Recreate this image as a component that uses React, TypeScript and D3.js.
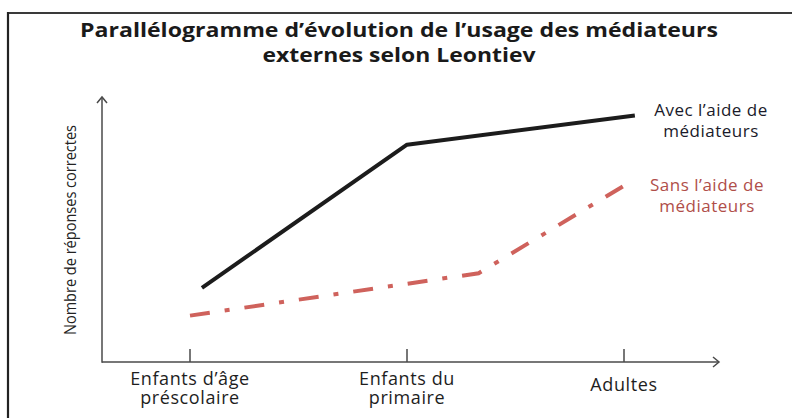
import React from "react";
import * as d3 from "d3";

// categories on the x axis (two-line labels)
const categories = [
  ["Enfants d\u2019âge", "préscolaire"],
  ["Enfants du", "primaire"],
  ["Adultes"],
];

// x given in category units (0 = first tick), y in arbitrary 0–100 units
const avecX = [0.055, 1, 2.05];
const avecY = [28, 82, 93];
const sansX = [0, 1.33, 2.04];
const sansY = [17.5, 33.5, 68.5];

const title = ["Parallélogramme d\u2019évolution de l\u2019usage des médiateurs", "externes selon Leontiev"];
const yLabel = "Nombre de réponses correctes";
const avecLabel = ["Avec l\u2019aide de", "médiateurs"];
const sansLabel = ["Sans l\u2019aide de", "médiateurs"];

const W = 792;
const H = 418;
const font = "'Open Sans', Lato, sans-serif";

export default function App() {
  const x = d3.scaleLinear().domain([0, 2]).range([190, 624]);
  const y = d3.scaleLinear().domain([0, 100]).range([362, 97]);
  const axisX0 = 102;
  const axisXEnd = 719;
  const axisYTop = 97;
  const axisY0 = 362;

  const line = d3
    .line<[number, number]>()
    .x((d) => x(d[0]))
    .y((d) => y(d[1]));

  const avecPts = avecX.map((v, i) => [v, avecY[i]] as [number, number]);
  const sansPts = sansX.map((v, i) => [v, sansY[i]] as [number, number]);

  return (
    <div style={{ position: "fixed", left: 0, top: 0, width: W, height: H, background: "#fff" }}>
      <svg width={W} height={H} style={{ display: "block", fontFamily: font }}>
        {/* frame */}
        <line x1={8} y1={13} x2={W} y2={13} stroke="#3a3a3a" strokeWidth={2} />
        <line x1={8} y1={12} x2={8} y2={H} stroke="#222" strokeWidth={2.2} />

        {/* title */}
        {title.map((t, i) => (
          <text
            key={i}
            x={399}
            y={37 + i * 25}
            textAnchor="middle"
            fontSize={20}
            fontWeight={700}
            fill="#1a1a1a"
            textLength={i === 0 ? 638 : 273}
            lengthAdjust="spacingAndGlyphs"
          >
            {t}
          </text>
        ))}

        {/* axes */}
        <g stroke="#4a4a4a" strokeWidth={1.5} fill="none">
          <line x1={axisX0} y1={axisY0} x2={axisXEnd} y2={axisY0} />
          <line x1={axisX0} y1={axisY0 + 0.75} x2={axisX0} y2={axisYTop} />
          <polyline points={`${axisX0 - 5},${axisYTop + 6} ${axisX0},${axisYTop} ${axisX0 + 5},${axisYTop + 6}`} />
          <polyline points={`${axisXEnd - 6},${axisY0 - 5} ${axisXEnd},${axisY0} ${axisXEnd - 6},${axisY0 + 5}`} />
          {categories.map((_, i) => (
            <line key={i} x1={x(i)} y1={axisY0} x2={x(i)} y2={axisY0 - 13} />
          ))}
        </g>

        {/* category labels */}
        {categories.map((lines, i) => (
          <text
            key={i}
            x={x(i)}
            textAnchor="middle"
            fontSize={18}
            letterSpacing={0.6}
            fill="#1e1e1e"
          >
            {lines.map((l, j) => (
              <tspan key={j} x={x(i)} y={(lines.length === 1 ? 391 : 385) + j * 19}>
                {l}
              </tspan>
            ))}
          </text>
        ))}

        {/* y axis label */}
        <text
          transform={`translate(76,${230}) rotate(-90)`}
          textAnchor="middle"
          fontSize={17}
          fill="#222"
          textLength={210}
          lengthAdjust="spacingAndGlyphs"
        >
          {yLabel}
        </text>

        {/* series */}
        <path d={line(avecPts) ?? ""} fill="none" stroke="#1c1c1c" strokeWidth={4} strokeLinejoin="round" />
        <path
          d={line(sansPts) ?? ""}
          fill="none"
          stroke="#cf625c"
          strokeWidth={4}
          strokeDasharray="20 15 5 15"
        />

        {/* series labels */}
        <text textAnchor="middle" fontSize={17} letterSpacing={0.5} fill="#1a1a2a">
          {avecLabel.map((l, j) => (
            <tspan key={j} x={711} y={116 + j * 21}>
              {l}
            </tspan>
          ))}
        </text>
        <text textAnchor="middle" fontSize={17} letterSpacing={0.5} fill="#b04e49">
          {sansLabel.map((l, j) => (
            <tspan key={j} x={707} y={191 + j * 21}>
              {l}
            </tspan>
          ))}
        </text>
      </svg>
    </div>
  );
}
